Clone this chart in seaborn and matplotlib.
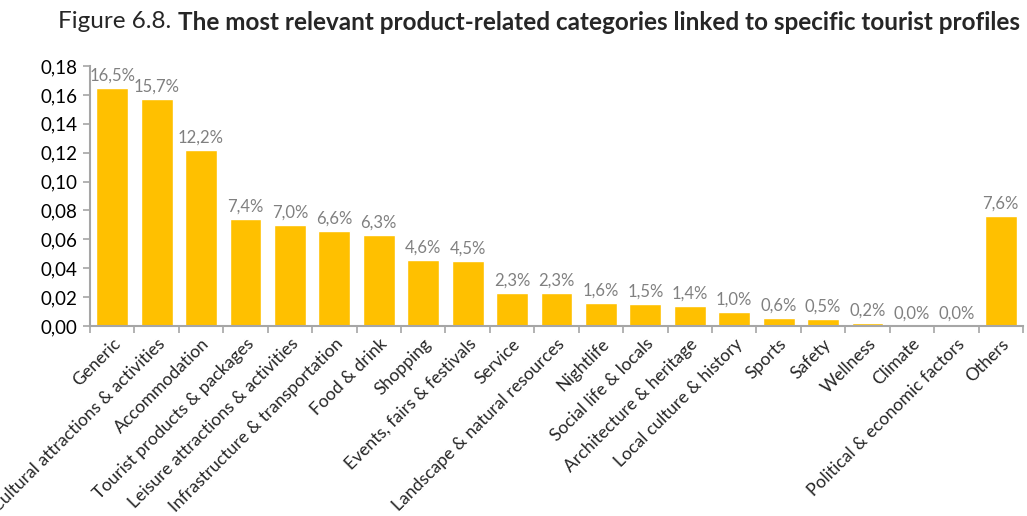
import matplotlib
matplotlib.use("Agg")
import matplotlib.pyplot as plt
import seaborn as sns
import numpy as np
import pandas as pd
from matplotlib.ticker import FixedLocator, FuncFormatter

categories = ["Generic", "Cultural attractions & activities", "Accommodation",
              "Tourist products & packages", "Leisure attractions & activities",
              "Infrastructure & transportation", "Food & drink", "Shopping",
              "Events, fairs & festivals", "Service", "Landscape & natural resources",
              "Nightlife", "Social life & locals", "Architecture & heritage",
              "Local culture & history", "Sports", "Safety", "Wellness", "Climate",
              "Political & economic factors", "Others"]
values = [0.165, 0.157, 0.122, 0.074, 0.070, 0.066, 0.063, 0.046, 0.045, 0.023,
          0.023, 0.016, 0.015, 0.014, 0.0095, 0.0055, 0.005, 0.002, 0.0, 0.0, 0.076]
labels = ["16,5%", "15,7%", "12,2%", "7,4%", "7,0%", "6,6%", "6,3%", "4,6%", "4,5%",
          "2,3%", "2,3%", "1,6%", "1,5%", "1,4%", "1,0%", "0,6%", "0,5%", "0,2%",
          "0,0%", "0,0%", "7,6%"]
yticks = [0.0, 0.02, 0.04, 0.06, 0.08, 0.10, 0.12, 0.14, 0.16, 0.18]

sns.set_style("white")
plt.rcParams['font.family'] = ['Lato', 'DejaVu Sans']

fig = plt.figure(figsize=(10.27, 5.16), dpi=100)
ax = fig.add_axes([90/1027, 1-326/516, (1023-90)/1027, 260/516])

df = pd.DataFrame({"cat": categories, "val": values})
sns.barplot(data=df, x="cat", y="val", color="#FFC000", saturation=1, width=0.72, ax=ax)

ax.set_ylim(0, 0.18)
ax.set_xlim(-0.5, len(categories) - 0.5)
ax.set_yticks(yticks)
ax.yaxis.set_major_formatter(FuncFormatter(lambda v, p: f"{v:.2f}".replace(".", ",")))
ax.set_xlabel("")
ax.set_ylabel("")

grey = "#A6A6A6"
for s in ["top", "right"]:
    ax.spines[s].set_visible(False)
for s in ["left", "bottom"]:
    ax.spines[s].set_color(grey)
    ax.spines[s].set_linewidth(1.5)

ax.tick_params(axis="y", which="major", left=True, length=5, width=1.2, color=grey,
               labelsize=13.5, labelcolor="#000000", pad=4)
ax.set_xticks(range(len(categories)))
ax.set_xticklabels(categories, rotation=45, ha="right", rotation_mode="anchor", fontsize=12.6)
ax.tick_params(axis="x", which="major", bottom=False, length=0, pad=7)
ax.xaxis.set_minor_locator(FixedLocator(np.arange(-0.5, len(categories), 1.0)))
ax.tick_params(axis="x", which="minor", bottom=True, length=5, width=1.2, color=grey)

for i, (v, lab) in enumerate(zip(values, labels)):
    ax.text(i, v + 0.003, lab, ha="center", va="bottom", fontsize=12, color="#808080")

# Title with mixed weights, right aligned
fig.canvas.draw()
r = fig.canvas.get_renderer()
t_bold = fig.text(1020/1027, 1-22/516, "The most relevant product-related categories linked to specific tourist profiles",
                  ha="right", va="center", fontsize=17.5, fontweight="bold")
bb = t_bold.get_window_extent(renderer=r)
x0 = bb.x0 / fig.bbox.width
fig.text(x0, 1-22/516, "Figure 6.8. ", ha="right", va="center", fontsize=17.5)

fig.savefig("out.png", dpi=100)
